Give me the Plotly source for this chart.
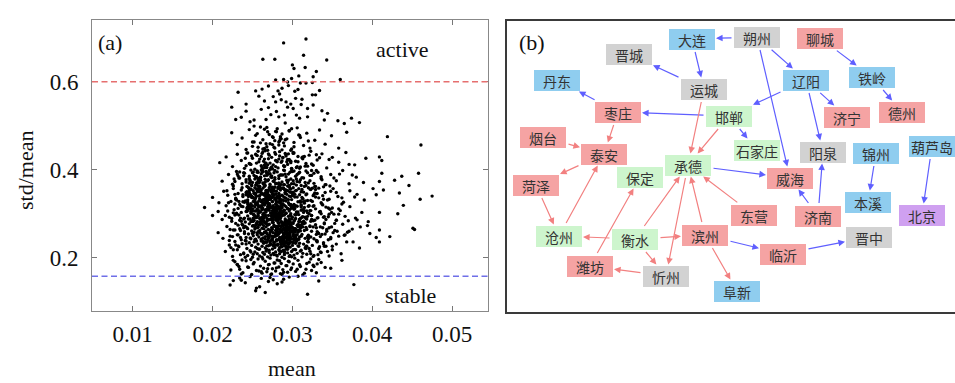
import plotly.graph_objects as go

W, H = 955, 383

# ---------------- panel (a): scatter of std/mean vs mean ----------------
# values, grouped by std/mean band
mean_a = [0.0222, 0.0226, 0.0234, 0.0236, 0.0241, 0.0247, 0.0254, 0.0255, 0.0259, 0.0261,
          0.0266, 0.0270, 0.0272, 0.0276, 0.0281, 0.0287, 0.0289, 0.0296, 0.0307, 0.0319,
          0.0333, 0.0377]
cv_a = [0.138, 0.148, 0.154, 0.149, 0.143, 0.157, 0.125, 0.131, 0.134, 0.153,
        0.121, 0.146, 0.155, 0.150, 0.141, 0.145, 0.151, 0.156, 0.158, 0.117,
        0.147, 0.139]

mean_b = [0.0223, 0.0231, 0.0238, 0.0242, 0.0245, 0.0249, 0.0252, 0.0255, 0.0257, 0.0260,
          0.0262, 0.0264, 0.0266, 0.0268, 0.0270, 0.0272, 0.0274, 0.0275, 0.0277, 0.0279,
          0.0281, 0.0283, 0.0285, 0.0286, 0.0288, 0.0290, 0.0292, 0.0294, 0.0296, 0.0299,
          0.0301, 0.0304, 0.0307, 0.0310, 0.0313, 0.0317, 0.0321, 0.0326, 0.0333, 0.0341,
          0.0228, 0.0236, 0.0244, 0.0251, 0.0258, 0.0263, 0.0269, 0.0273, 0.0278, 0.0284,
          0.0289, 0.0293, 0.0298, 0.0303, 0.0309, 0.0315, 0.0324, 0.0336, 0.0348, 0.0362,
          0.0233, 0.0248, 0.0261, 0.0271, 0.0280, 0.0287, 0.0295, 0.0306, 0.0318, 0.0330]
cv_b = [0.172, 0.185, 0.166, 0.193, 0.178, 0.162, 0.189, 0.171, 0.197, 0.181,
        0.165, 0.176, 0.192, 0.168, 0.184, 0.199, 0.163, 0.175, 0.188, 0.170,
        0.195, 0.179, 0.164, 0.187, 0.173, 0.198, 0.182, 0.167, 0.191, 0.177,
        0.186, 0.169, 0.194, 0.180, 0.161, 0.174, 0.190, 0.183, 0.196, 0.178,
        0.191, 0.163, 0.179, 0.186, 0.170, 0.197, 0.175, 0.162, 0.188, 0.193,
        0.167, 0.182, 0.173, 0.199, 0.184, 0.165, 0.171, 0.189, 0.176, 0.194,
        0.180, 0.196, 0.168, 0.185, 0.177, 0.162, 0.192, 0.174, 0.187, 0.166]

mean_c = [0.0216, 0.0221, 0.0225, 0.0228, 0.0231, 0.0233, 0.0235, 0.0237, 0.0239, 0.0241,
          0.0243, 0.0244, 0.0246, 0.0247, 0.0249, 0.0250, 0.0252, 0.0253, 0.0254, 0.0256,
          0.0257, 0.0258, 0.0259, 0.0261, 0.0262, 0.0263, 0.0264, 0.0265, 0.0266, 0.0267,
          0.0268, 0.0269, 0.0270, 0.0271, 0.0272, 0.0273, 0.0274, 0.0275, 0.0276, 0.0277,
          0.0278, 0.0279, 0.0280, 0.0281, 0.0282, 0.0283, 0.0284, 0.0285, 0.0286, 0.0287,
          0.0288, 0.0289, 0.0290, 0.0291, 0.0292, 0.0293, 0.0294, 0.0295, 0.0296, 0.0297,
          0.0298, 0.0299, 0.0300, 0.0302, 0.0303, 0.0305, 0.0306, 0.0308, 0.0309, 0.0311,
          0.0312, 0.0314, 0.0316, 0.0318, 0.0320, 0.0322, 0.0325, 0.0327, 0.0330, 0.0333,
          0.0336, 0.0339, 0.0342, 0.0346, 0.0350, 0.0355, 0.0361, 0.0368, 0.0376, 0.0384,
          0.0405, 0.0409, 0.0422, 0.0232, 0.0248, 0.0255, 0.0262, 0.0268, 0.0273, 0.0277,
          0.0281, 0.0284, 0.0287, 0.0290, 0.0293, 0.0297, 0.0301, 0.0304, 0.0307, 0.0313,
          0.0319, 0.0326, 0.0334, 0.0344, 0.0242, 0.0251, 0.0259, 0.0266, 0.0271, 0.0276,
          0.0280, 0.0285, 0.0289, 0.0294, 0.0299, 0.0304, 0.0310, 0.0317, 0.0323, 0.0331]
cv_c = [0.214, 0.229, 0.203, 0.237, 0.218, 0.225, 0.207, 0.232, 0.211, 0.239,
        0.221, 0.205, 0.234, 0.216, 0.228, 0.201, 0.236, 0.213, 0.224, 0.209,
        0.231, 0.219, 0.204, 0.238, 0.226, 0.212, 0.233, 0.208, 0.222, 0.215,
        0.235, 0.202, 0.227, 0.217, 0.230, 0.206, 0.240, 0.220, 0.210, 0.234,
        0.223, 0.213, 0.238, 0.204, 0.229, 0.218, 0.209, 0.236, 0.225, 0.201,
        0.216, 0.232, 0.207, 0.227, 0.220, 0.239, 0.211, 0.230, 0.203, 0.224,
        0.235, 0.214, 0.228, 0.206, 0.219, 0.237, 0.210, 0.226, 0.233, 0.217,
        0.202, 0.231, 0.222, 0.208, 0.236, 0.215, 0.228, 0.205, 0.239, 0.221,
        0.212, 0.234, 0.226, 0.204, 0.218, 0.231, 0.209, 0.236, 0.236, 0.222,
        0.246, 0.236, 0.248, 0.227, 0.213, 0.238, 0.201, 0.219, 0.232, 0.207,
        0.229, 0.216, 0.240, 0.211, 0.223, 0.205, 0.234, 0.218, 0.227, 0.210,
        0.237, 0.203, 0.225, 0.214, 0.231, 0.208, 0.220, 0.235, 0.212, 0.228,
        0.206, 0.239, 0.217, 0.224, 0.202, 0.233, 0.215, 0.226, 0.209, 0.238]

mean_d = [0.0207, 0.0213, 0.0218, 0.0222, 0.0226, 0.0229, 0.0232, 0.0234, 0.0236, 0.0238,
          0.0240, 0.0242, 0.0243, 0.0245, 0.0246, 0.0248, 0.0249, 0.0250, 0.0251, 0.0253,
          0.0254, 0.0255, 0.0256, 0.0257, 0.0258, 0.0259, 0.0260, 0.0261, 0.0262, 0.0263,
          0.0264, 0.0265, 0.0266, 0.0267, 0.0268, 0.0269, 0.0270, 0.0271, 0.0272, 0.0273,
          0.0274, 0.0275, 0.0276, 0.0277, 0.0278, 0.0279, 0.0280, 0.0281, 0.0282, 0.0283,
          0.0284, 0.0285, 0.0286, 0.0287, 0.0288, 0.0289, 0.0290, 0.0291, 0.0292, 0.0293,
          0.0294, 0.0295, 0.0296, 0.0297, 0.0298, 0.0299, 0.0300, 0.0301, 0.0303, 0.0304,
          0.0306, 0.0307, 0.0309, 0.0310, 0.0312, 0.0314, 0.0316, 0.0318, 0.0320, 0.0322,
          0.0324, 0.0327, 0.0329, 0.0332, 0.0335, 0.0338, 0.0341, 0.0345, 0.0349, 0.0353,
          0.0358, 0.0363, 0.0369, 0.0375, 0.0385, 0.0394, 0.0397, 0.0409, 0.0451, 0.0453,
          0.0231, 0.0239, 0.0247, 0.0252, 0.0257, 0.0261, 0.0264, 0.0267, 0.0270, 0.0273,
          0.0276, 0.0279, 0.0282, 0.0285, 0.0288, 0.0291, 0.0294, 0.0297, 0.0300, 0.0303,
          0.0307, 0.0311, 0.0315, 0.0320, 0.0326, 0.0333, 0.0340, 0.0348, 0.0356, 0.0366,
          0.0244, 0.0253, 0.0259, 0.0265, 0.0269, 0.0274, 0.0278, 0.0283, 0.0287, 0.0292,
          0.0296, 0.0301, 0.0305, 0.0310, 0.0317, 0.0323, 0.0331, 0.0343, 0.0237, 0.0256,
          0.0266, 0.0275, 0.0281, 0.0286, 0.0290, 0.0295, 0.0302, 0.0308, 0.0313, 0.0319,
          0.0228, 0.0250, 0.0262, 0.0271, 0.0277, 0.0284, 0.0289, 0.0298, 0.0330, 0.0371]
cv_d = [0.257, 0.244, 0.271, 0.249, 0.263, 0.278, 0.252, 0.266, 0.241, 0.274,
        0.259, 0.246, 0.268, 0.254, 0.277, 0.243, 0.261, 0.272, 0.250, 0.265,
        0.242, 0.275, 0.256, 0.269, 0.247, 0.262, 0.279, 0.253, 0.267, 0.245,
        0.273, 0.258, 0.248, 0.270, 0.255, 0.240, 0.264, 0.276, 0.251, 0.260,
        0.268, 0.244, 0.257, 0.274, 0.249, 0.262, 0.241, 0.271, 0.254, 0.278,
        0.246, 0.265, 0.259, 0.243, 0.273, 0.252, 0.267, 0.248, 0.276, 0.256,
        0.263, 0.240, 0.270, 0.255, 0.245, 0.279, 0.261, 0.250, 0.266, 0.242,
        0.274, 0.258, 0.247, 0.269, 0.253, 0.277, 0.244, 0.264, 0.251, 0.272,
        0.260, 0.243, 0.275, 0.257, 0.248, 0.268, 0.254, 0.241, 0.270, 0.262,
        0.249, 0.276, 0.258, 0.265, 0.270, 0.273, 0.255, 0.263, 0.267, 0.264,
        0.252, 0.268, 0.245, 0.273, 0.259, 0.242, 0.266, 0.278, 0.250, 0.261,
        0.247, 0.271, 0.256, 0.244, 0.264, 0.279, 0.253, 0.240, 0.269, 0.258,
        0.275, 0.249, 0.262, 0.243, 0.270, 0.255, 0.277, 0.246, 0.260, 0.252,
        0.266, 0.241, 0.274, 0.257, 0.248, 0.263, 0.250, 0.272, 0.245, 0.267,
        0.254, 0.278, 0.243, 0.261, 0.269, 0.247, 0.259, 0.264, 0.276, 0.252,
        0.242, 0.265, 0.251, 0.273, 0.256, 0.268, 0.244, 0.262, 0.270, 0.248,
        0.263, 0.255, 0.277, 0.246, 0.271, 0.258, 0.241, 0.267, 0.253, 0.260]

mean_e = [0.0190, 0.0200, 0.0207, 0.0212, 0.0217, 0.0221, 0.0224, 0.0227, 0.0230, 0.0232,
          0.0234, 0.0236, 0.0238, 0.0240, 0.0241, 0.0243, 0.0244, 0.0246, 0.0247, 0.0248,
          0.0250, 0.0251, 0.0252, 0.0253, 0.0254, 0.0255, 0.0256, 0.0257, 0.0258, 0.0259,
          0.0260, 0.0261, 0.0262, 0.0263, 0.0264, 0.0265, 0.0266, 0.0267, 0.0268, 0.0269,
          0.0270, 0.0271, 0.0272, 0.0273, 0.0274, 0.0275, 0.0276, 0.0277, 0.0278, 0.0279,
          0.0280, 0.0281, 0.0282, 0.0283, 0.0284, 0.0285, 0.0286, 0.0287, 0.0288, 0.0289,
          0.0290, 0.0291, 0.0292, 0.0293, 0.0294, 0.0295, 0.0296, 0.0297, 0.0298, 0.0299,
          0.0300, 0.0302, 0.0303, 0.0305, 0.0306, 0.0308, 0.0309, 0.0311, 0.0313, 0.0315,
          0.0317, 0.0319, 0.0321, 0.0324, 0.0326, 0.0329, 0.0332, 0.0335, 0.0338, 0.0342,
          0.0346, 0.0350, 0.0355, 0.0360, 0.0366, 0.0372, 0.0379, 0.0387, 0.0395, 0.0409,
          0.0432, 0.0439, 0.0228, 0.0239, 0.0245, 0.0249, 0.0253, 0.0257, 0.0261, 0.0264,
          0.0267, 0.0270, 0.0273, 0.0276, 0.0279, 0.0282, 0.0285, 0.0288, 0.0291, 0.0294,
          0.0297, 0.0301, 0.0304, 0.0307, 0.0311, 0.0316, 0.0322, 0.0328, 0.0336, 0.0345,
          0.0235, 0.0242, 0.0251, 0.0258, 0.0263, 0.0268, 0.0272, 0.0277, 0.0281, 0.0286,
          0.0290, 0.0295, 0.0299, 0.0304, 0.0310, 0.0318, 0.0327, 0.0340, 0.0358, 0.0381,
          0.0226, 0.0248, 0.0255, 0.0262, 0.0269, 0.0274, 0.0279, 0.0284, 0.0289, 0.0293,
          0.0298, 0.0303, 0.0309, 0.0314, 0.0320, 0.0331, 0.0352, 0.0370, 0.0256, 0.0266,
          0.0271, 0.0275, 0.0280, 0.0283, 0.0287, 0.0292, 0.0296, 0.0301, 0.0312, 0.0323]
cv_e = [0.314, 0.296, 0.305, 0.287, 0.318, 0.292, 0.283, 0.309, 0.299, 0.312,
        0.285, 0.303, 0.316, 0.290, 0.281, 0.307, 0.295, 0.319, 0.288, 0.301,
        0.311, 0.284, 0.297, 0.315, 0.293, 0.306, 0.282, 0.300, 0.317, 0.289,
        0.304, 0.291, 0.313, 0.286, 0.298, 0.320, 0.294, 0.308, 0.283, 0.310,
        0.296, 0.318, 0.287, 0.302, 0.314, 0.280, 0.305, 0.292, 0.311, 0.299,
        0.285, 0.309, 0.295, 0.316, 0.290, 0.303, 0.282, 0.313, 0.297, 0.307,
        0.319, 0.288, 0.301, 0.284, 0.312, 0.294, 0.306, 0.281, 0.300, 0.315,
        0.292, 0.310, 0.286, 0.304, 0.317, 0.298, 0.283, 0.308, 0.293, 0.314,
        0.289, 0.302, 0.318, 0.296, 0.284, 0.311, 0.291, 0.305, 0.320, 0.287,
        0.299, 0.313, 0.285, 0.307, 0.294, 0.316, 0.290, 0.303, 0.282, 0.303,
        0.300, 0.319, 0.297, 0.288, 0.312, 0.283, 0.306, 0.295, 0.317, 0.291,
        0.309, 0.286, 0.301, 0.314, 0.293, 0.280, 0.308, 0.297, 0.284, 0.311,
        0.296, 0.318, 0.289, 0.304, 0.315, 0.292, 0.307, 0.285, 0.300, 0.313,
        0.290, 0.305, 0.283, 0.316, 0.298, 0.310, 0.287, 0.302, 0.319, 0.294,
        0.308, 0.281, 0.313, 0.297, 0.289, 0.306, 0.318, 0.293, 0.311, 0.286,
        0.302, 0.316, 0.291, 0.284, 0.309, 0.296, 0.314, 0.288, 0.305, 0.281,
        0.295, 0.312, 0.287, 0.303, 0.317, 0.290, 0.299, 0.284, 0.310, 0.297,
        0.313, 0.285, 0.306, 0.294, 0.319, 0.301, 0.288, 0.315, 0.292, 0.307]

mean_f = [0.0200, 0.0208, 0.0214, 0.0219, 0.0223, 0.0226, 0.0229, 0.0232, 0.0234, 0.0236,
          0.0238, 0.0240, 0.0242, 0.0244, 0.0245, 0.0247, 0.0248, 0.0250, 0.0251, 0.0253,
          0.0254, 0.0255, 0.0256, 0.0258, 0.0259, 0.0260, 0.0261, 0.0262, 0.0263, 0.0264,
          0.0265, 0.0266, 0.0267, 0.0268, 0.0269, 0.0270, 0.0271, 0.0272, 0.0273, 0.0274,
          0.0275, 0.0276, 0.0277, 0.0278, 0.0279, 0.0280, 0.0281, 0.0282, 0.0283, 0.0284,
          0.0285, 0.0286, 0.0287, 0.0288, 0.0289, 0.0290, 0.0291, 0.0292, 0.0293, 0.0294,
          0.0295, 0.0296, 0.0297, 0.0299, 0.0300, 0.0302, 0.0303, 0.0305, 0.0307, 0.0309,
          0.0311, 0.0313, 0.0315, 0.0318, 0.0320, 0.0323, 0.0326, 0.0329, 0.0333, 0.0337,
          0.0341, 0.0346, 0.0351, 0.0357, 0.0364, 0.0372, 0.0381, 0.0390, 0.0405, 0.0414,
          0.0434, 0.0460, 0.0475, 0.0233, 0.0243, 0.0249, 0.0257, 0.0263, 0.0268, 0.0272,
          0.0276, 0.0280, 0.0284, 0.0288, 0.0292, 0.0296, 0.0301, 0.0306, 0.0312, 0.0319,
          0.0327, 0.0336, 0.0348, 0.0362, 0.0241, 0.0252, 0.0259, 0.0266, 0.0271, 0.0277,
          0.0282, 0.0287, 0.0291, 0.0298, 0.0304, 0.0310, 0.0317, 0.0325, 0.0339, 0.0355,
          0.0228, 0.0246, 0.0255, 0.0262, 0.0269, 0.0274, 0.0279, 0.0285, 0.0290, 0.0295,
          0.0300, 0.0308, 0.0316, 0.0331, 0.0378, 0.0260, 0.0273, 0.0286, 0.0297, 0.0314]
cv_f = [0.337, 0.325, 0.351, 0.342, 0.328, 0.357, 0.333, 0.346, 0.321, 0.354,
        0.339, 0.326, 0.348, 0.331, 0.359, 0.344, 0.323, 0.336, 0.352, 0.329,
        0.343, 0.356, 0.322, 0.340, 0.334, 0.350, 0.327, 0.345, 0.358, 0.332,
        0.324, 0.347, 0.338, 0.353, 0.330, 0.341, 0.355, 0.320, 0.336, 0.349,
        0.328, 0.344, 0.357, 0.333, 0.322, 0.351, 0.339, 0.326, 0.346, 0.335,
        0.354, 0.331, 0.342, 0.323, 0.358, 0.337, 0.349, 0.329, 0.344, 0.352,
        0.325, 0.340, 0.356, 0.332, 0.347, 0.321, 0.338, 0.353, 0.327, 0.343,
        0.350, 0.334, 0.324, 0.345, 0.359, 0.330, 0.341, 0.355, 0.336, 0.322,
        0.348, 0.333, 0.357, 0.339, 0.326, 0.352, 0.344, 0.331, 0.343, 0.354,
        0.347, 0.333, 0.340, 0.328, 0.350, 0.337, 0.356, 0.324, 0.345, 0.332,
        0.353, 0.327, 0.341, 0.358, 0.335, 0.321, 0.349, 0.338, 0.355, 0.330,
        0.344, 0.325, 0.351, 0.336, 0.329, 0.347, 0.356, 0.334, 0.323, 0.342,
        0.357, 0.331, 0.346, 0.339, 0.352, 0.326, 0.343, 0.358, 0.333, 0.348,
        0.322, 0.354, 0.340, 0.328, 0.350, 0.337, 0.345, 0.324, 0.355, 0.332,
        0.341, 0.357, 0.329, 0.346, 0.338, 0.352, 0.335, 0.320, 0.349, 0.327]

mean_g = [0.0212, 0.0220, 0.0226, 0.0230, 0.0234, 0.0237, 0.0240, 0.0242, 0.0244, 0.0246,
          0.0248, 0.0250, 0.0252, 0.0254, 0.0256, 0.0257, 0.0259, 0.0260, 0.0262, 0.0263,
          0.0265, 0.0266, 0.0268, 0.0269, 0.0271, 0.0272, 0.0274, 0.0275, 0.0277, 0.0278,
          0.0280, 0.0281, 0.0283, 0.0284, 0.0286, 0.0287, 0.0289, 0.0290, 0.0292, 0.0293,
          0.0295, 0.0296, 0.0298, 0.0300, 0.0302, 0.0304, 0.0306, 0.0308, 0.0311, 0.0314,
          0.0317, 0.0320, 0.0324, 0.0328, 0.0332, 0.0337, 0.0342, 0.0348, 0.0355, 0.0363,
          0.0371, 0.0380, 0.0389, 0.0401, 0.0409, 0.0412, 0.0428, 0.0437, 0.0446, 0.0458,
          0.0232, 0.0243, 0.0251, 0.0258, 0.0264, 0.0270, 0.0276, 0.0282, 0.0288, 0.0294,
          0.0299, 0.0305, 0.0312, 0.0319, 0.0327, 0.0336, 0.0347, 0.0359, 0.0247, 0.0261,
          0.0273, 0.0285, 0.0297, 0.0309, 0.0322, 0.0339, 0.0253, 0.0267, 0.0279, 0.0291,
          0.0301, 0.0315, 0.0330, 0.0352, 0.0239, 0.0255, 0.0283, 0.0296, 0.0310, 0.0375]
cv_g = [0.374, 0.389, 0.363, 0.396, 0.381, 0.368, 0.392, 0.377, 0.361, 0.385,
        0.399, 0.371, 0.387, 0.365, 0.394, 0.379, 0.362, 0.383, 0.397, 0.370,
        0.386, 0.364, 0.391, 0.375, 0.398, 0.367, 0.382, 0.360, 0.393, 0.378,
        0.369, 0.395, 0.380, 0.363, 0.388, 0.372, 0.399, 0.366, 0.384, 0.376,
        0.390, 0.361, 0.379, 0.396, 0.368, 0.385, 0.373, 0.392, 0.364, 0.381,
        0.397, 0.370, 0.387, 0.362, 0.394, 0.377, 0.366, 0.389, 0.375, 0.398,
        0.368, 0.383, 0.371, 0.357, 0.373, 0.392, 0.376, 0.385, 0.364, 0.392,
        0.386, 0.362, 0.395, 0.378, 0.367, 0.391, 0.374, 0.360, 0.388, 0.371,
        0.397, 0.365, 0.382, 0.393, 0.369, 0.380, 0.363, 0.390, 0.376, 0.399,
        0.384, 0.366, 0.394, 0.372, 0.387, 0.361, 0.379, 0.396, 0.368, 0.390,
        0.375, 0.362, 0.398, 0.381, 0.393, 0.370, 0.386, 0.364, 0.377, 0.388]

mean_h = [0.0209, 0.0217, 0.0225, 0.0231, 0.0236, 0.0240, 0.0244, 0.0247, 0.0250, 0.0253,
          0.0256, 0.0258, 0.0261, 0.0263, 0.0265, 0.0268, 0.0270, 0.0272, 0.0274, 0.0276,
          0.0278, 0.0280, 0.0282, 0.0284, 0.0286, 0.0288, 0.0290, 0.0292, 0.0294, 0.0296,
          0.0299, 0.0301, 0.0304, 0.0307, 0.0310, 0.0313, 0.0317, 0.0321, 0.0326, 0.0331,
          0.0337, 0.0343, 0.0350, 0.0358, 0.0367, 0.0378, 0.0392, 0.0409, 0.0412, 0.0242,
          0.0255, 0.0266, 0.0275, 0.0283, 0.0291, 0.0298, 0.0306, 0.0315, 0.0324, 0.0334,
          0.0262, 0.0279, 0.0293, 0.0309, 0.0346, 0.0371, 0.0249, 0.0287, 0.0302, 0.0319]
cv_h = [0.416, 0.429, 0.407, 0.435, 0.421, 0.403, 0.438, 0.413, 0.426, 0.401,
        0.432, 0.418, 0.409, 0.440, 0.424, 0.405, 0.436, 0.415, 0.428, 0.411,
        0.439, 0.420, 0.404, 0.431, 0.417, 0.427, 0.408, 0.434, 0.412, 0.423,
        0.402, 0.437, 0.419, 0.430, 0.406, 0.425, 0.414, 0.433, 0.410, 0.422,
        0.436, 0.404, 0.428, 0.417, 0.439, 0.411, 0.426, 0.429, 0.421, 0.409,
        0.433, 0.415, 0.402, 0.424, 0.437, 0.419, 0.407, 0.430, 0.413, 0.427,
        0.405, 0.435, 0.418, 0.403, 0.423, 0.412, 0.431, 0.420, 0.438, 0.408]

mean_i = [0.0224, 0.0231, 0.0237, 0.0242, 0.0246, 0.0250, 0.0254, 0.0257, 0.0260, 0.0263,
          0.0266, 0.0269, 0.0272, 0.0275, 0.0278, 0.0281, 0.0284, 0.0287, 0.0290, 0.0293,
          0.0296, 0.0299, 0.0302, 0.0306, 0.0310, 0.0314, 0.0318, 0.0323, 0.0328, 0.0334,
          0.0341, 0.0349, 0.0358, 0.0368, 0.0419, 0.0461, 0.0252, 0.0268, 0.0279, 0.0289,
          0.0298, 0.0308, 0.0320, 0.0265, 0.0285]
cv_i = [0.484, 0.457, 0.472, 0.446, 0.491, 0.463, 0.478, 0.451, 0.497, 0.468,
        0.443, 0.486, 0.459, 0.475, 0.449, 0.493, 0.466, 0.481, 0.454, 0.470,
        0.488, 0.447, 0.462, 0.495, 0.473, 0.455, 0.483, 0.442, 0.467, 0.490,
        0.458, 0.477, 0.449, 0.485, 0.475, 0.456, 0.499, 0.452, 0.487, 0.461,
        0.444, 0.479, 0.465, 0.492, 0.471]

mean_j = [0.0232, 0.0254, 0.0262, 0.0258, 0.0282, 0.0284, 0.0287, 0.0307, 0.0304, 0.0325,
          0.0329, 0.0312, 0.0224, 0.0242, 0.0242, 0.0261, 0.0270, 0.0279, 0.0280, 0.0292,
          0.0294, 0.0301, 0.0298, 0.0319, 0.0326, 0.0337, 0.0344, 0.0229, 0.0236, 0.0247,
          0.0252, 0.0267, 0.0283, 0.0290, 0.0305, 0.0309, 0.0319, 0.0340, 0.0357, 0.0374,
          0.0384, 0.0365, 0.0270, 0.0276, 0.0286, 0.0295, 0.0303, 0.0273, 0.0291, 0.0311,
          0.0265, 0.0334]
cv_j = [0.576, 0.579, 0.583, 0.567, 0.579, 0.572, 0.585, 0.582, 0.562, 0.570,
        0.570, 0.560, 0.542, 0.549, 0.533, 0.537, 0.541, 0.554, 0.532, 0.554,
        0.542, 0.539, 0.549, 0.539, 0.547, 0.534, 0.528, 0.514, 0.519, 0.509,
        0.513, 0.514, 0.520, 0.524, 0.524, 0.517, 0.520, 0.513, 0.511, 0.517,
        0.507, 0.505, 0.590, 0.566, 0.559, 0.591, 0.578, 0.525, 0.506, 0.548,
        0.556, 0.580]

mean_k = [0.0317, 0.0289, 0.0263, 0.0278, 0.0314, 0.0343, 0.0300, 0.0302, 0.0316, 0.0330,
          0.0308, 0.0326, 0.0279, 0.0289, 0.0299, 0.0360, 0.0310, 0.0317, 0.0325, 0.0294]
cv_k = [0.697, 0.688, 0.651, 0.651, 0.660, 0.649, 0.638, 0.630, 0.632, 0.623,
        0.613, 0.611, 0.604, 0.605, 0.607, 0.605, 0.597, 0.597, 0.598, 0.599]

# dense core of the cloud
mean_core = [0.0263, 0.0291, 0.0248, 0.0307, 0.0276, 0.0255, 0.0318, 0.0284, 0.0269, 0.0299,
             0.0287, 0.0252, 0.0274, 0.0311, 0.0266, 0.0295, 0.0243, 0.0281, 0.0302, 0.0259,
             0.0278, 0.0305, 0.0261, 0.0289, 0.0246, 0.0272, 0.0314, 0.0257, 0.0293, 0.0283,
             0.0250, 0.0279, 0.0297, 0.0268, 0.0322, 0.0285, 0.0258, 0.0301, 0.0275, 0.0264,
             0.0296, 0.0271, 0.0254, 0.0288, 0.0309, 0.0262, 0.0280, 0.0245, 0.0316, 0.0277,
             0.0282, 0.0260, 0.0303, 0.0273, 0.0249, 0.0292, 0.0267, 0.0325, 0.0286, 0.0256,
             0.0270, 0.0298, 0.0285, 0.0253, 0.0279, 0.0312, 0.0265, 0.0290, 0.0247, 0.0304,
             0.0259, 0.0284, 0.0276, 0.0300, 0.0268, 0.0244, 0.0294, 0.0281, 0.0319, 0.0272,
             0.0293, 0.0267, 0.0251, 0.0286, 0.0310, 0.0274, 0.0258, 0.0297, 0.0283, 0.0262,
             0.0275, 0.0302, 0.0289, 0.0264, 0.0242, 0.0280, 0.0306, 0.0270, 0.0255, 0.0291,
             0.0266, 0.0288, 0.0251, 0.0313, 0.0279, 0.0258, 0.0296, 0.0273, 0.0284, 0.0247,
             0.0301, 0.0262, 0.0278, 0.0245, 0.0290, 0.0269, 0.0321, 0.0282, 0.0256, 0.0294,
             0.0274, 0.0253, 0.0299, 0.0286, 0.0263, 0.0308, 0.0277, 0.0249, 0.0292, 0.0268,
             0.0283, 0.0305, 0.0260, 0.0271, 0.0296, 0.0254, 0.0287, 0.0317, 0.0265, 0.0280,
             0.0257, 0.0279, 0.0292, 0.0248, 0.0275, 0.0300, 0.0267, 0.0285, 0.0311, 0.0262,
             0.0289, 0.0270, 0.0246, 0.0283, 0.0306, 0.0261, 0.0294, 0.0276, 0.0252, 0.0298,
             0.0264, 0.0297, 0.0281, 0.0255, 0.0272, 0.0315, 0.0288, 0.0259, 0.0278, 0.0303,
             0.0291, 0.0250, 0.0268, 0.0302, 0.0284, 0.0263, 0.0277, 0.0324, 0.0244, 0.0286,
             0.0273, 0.0309, 0.0256, 0.0280, 0.0295, 0.0266, 0.0251, 0.0289, 0.0271, 0.0313,
             0.0285, 0.0261, 0.0293, 0.0270, 0.0248, 0.0282, 0.0304, 0.0258, 0.0276, 0.0297,
             0.0269, 0.0290, 0.0254, 0.0278, 0.0307, 0.0265, 0.0287, 0.0243, 0.0299, 0.0274,
             0.0296, 0.0257, 0.0283, 0.0263, 0.0318, 0.0272, 0.0250, 0.0291, 0.0280, 0.0267,
             0.0278, 0.0302, 0.0266, 0.0289, 0.0255, 0.0294, 0.0271, 0.0308, 0.0260, 0.0285,
             0.0252, 0.0281, 0.0298, 0.0269, 0.0286, 0.0247, 0.0275, 0.0301, 0.0264, 0.0292,
             0.0287, 0.0266, 0.0310, 0.0277, 0.0259, 0.0296, 0.0283, 0.0253, 0.0272, 0.0316,
             0.0261, 0.0293, 0.0274, 0.0250, 0.0288, 0.0268, 0.0305, 0.0279, 0.0245, 0.0290,
             0.0299, 0.0276, 0.0258, 0.0284, 0.0265, 0.0312, 0.0270, 0.0295, 0.0281, 0.0256,
             0.0272, 0.0249, 0.0291, 0.0263, 0.0300, 0.0278, 0.0257, 0.0286, 0.0320, 0.0267,
             0.0284, 0.0307, 0.0262, 0.0276, 0.0254, 0.0289, 0.0298, 0.0269, 0.0282, 0.0246,
             0.0258, 0.0280, 0.0295, 0.0271, 0.0314, 0.0264, 0.0287, 0.0252, 0.0277, 0.0303,
             0.0291, 0.0268, 0.0282, 0.0247, 0.0275, 0.0297, 0.0261, 0.0309, 0.0285, 0.0270,
             0.0265, 0.0286, 0.0253, 0.0294, 0.0279, 0.0256, 0.0302, 0.0273, 0.0289, 0.0262,
             0.0280, 0.0259, 0.0301, 0.0267, 0.0248, 0.0290, 0.0276, 0.0317, 0.0260, 0.0284,
             0.0254, 0.0297, 0.0274, 0.0288, 0.0263, 0.0281, 0.0306, 0.0251, 0.0293, 0.0272,
             0.0298, 0.0271, 0.0249, 0.0283, 0.0311, 0.0266, 0.0279, 0.0258, 0.0296, 0.0287,
             0.0277, 0.0304, 0.0262, 0.0292, 0.0255, 0.0274, 0.0289, 0.0267, 0.0300, 0.0282,
             0.0260, 0.0285, 0.0296, 0.0270, 0.0286, 0.0248, 0.0314, 0.0278, 0.0264, 0.0293,
             0.0289, 0.0257, 0.0275, 0.0308, 0.0268, 0.0281, 0.0253, 0.0299, 0.0276, 0.0261,
             0.0271, 0.0294, 0.0283, 0.0259, 0.0303, 0.0265, 0.0290, 0.0246, 0.0280, 0.0310,
             0.0282, 0.0264, 0.0251, 0.0297, 0.0273, 0.0288, 0.0269, 0.0323, 0.0257, 0.0285]
cv_core = [0.312, 0.268, 0.355, 0.241, 0.297, 0.384, 0.226, 0.331, 0.274, 0.403,
           0.259, 0.346, 0.289, 0.318, 0.372, 0.233, 0.305, 0.264, 0.397, 0.281,
           0.336, 0.252, 0.391, 0.276, 0.318, 0.229, 0.349, 0.295, 0.262, 0.367,
           0.284, 0.407, 0.245, 0.326, 0.271, 0.359, 0.302, 0.218, 0.338, 0.293,
           0.361, 0.287, 0.322, 0.248, 0.394, 0.309, 0.256, 0.343, 0.279, 0.235,
           0.299, 0.376, 0.261, 0.314, 0.340, 0.273, 0.415, 0.286, 0.230, 0.352,
           0.244, 0.321, 0.367, 0.292, 0.255, 0.337, 0.280, 0.398, 0.311, 0.266,
           0.381, 0.258, 0.303, 0.347, 0.227, 0.316, 0.363, 0.270, 0.294, 0.339,
           0.275, 0.353, 0.290, 0.214, 0.329, 0.386, 0.307, 0.250, 0.370, 0.283,
           0.327, 0.240, 0.366, 0.301, 0.343, 0.265, 0.389, 0.319, 0.278, 0.236,
           0.296, 0.358, 0.273, 0.334, 0.249, 0.315, 0.277, 0.402, 0.263, 0.344,
           0.253, 0.311, 0.382, 0.288, 0.227, 0.348, 0.300, 0.267, 0.325, 0.374,
           0.338, 0.270, 0.243, 0.317, 0.396, 0.282, 0.351, 0.306, 0.233, 0.289,
           0.302, 0.379, 0.256, 0.342, 0.285, 0.320, 0.247, 0.364, 0.410, 0.271,
           0.363, 0.229, 0.316, 0.282, 0.345, 0.261, 0.304, 0.388, 0.274, 0.330,
           0.277, 0.332, 0.369, 0.254, 0.299, 0.347, 0.219, 0.318, 0.285, 0.356,
           0.320, 0.262, 0.293, 0.383, 0.238, 0.307, 0.340, 0.276, 0.361, 0.250,
           0.245, 0.393, 0.337, 0.266, 0.312, 0.254, 0.373, 0.296, 0.322, 0.281,
           0.352, 0.287, 0.221, 0.328, 0.270, 0.405, 0.299, 0.243, 0.336, 0.309,
           0.289, 0.345, 0.263, 0.377, 0.305, 0.231, 0.318, 0.357, 0.280, 0.248,
           0.331, 0.253, 0.384, 0.296, 0.261, 0.342, 0.225, 0.313, 0.368, 0.294,
           0.269, 0.320, 0.345, 0.237, 0.288, 0.391, 0.306, 0.259, 0.334, 0.278,
           0.398, 0.283, 0.308, 0.255, 0.366, 0.276, 0.323, 0.242, 0.350, 0.301,
           0.258, 0.337, 0.272, 0.411, 0.295, 0.319, 0.249, 0.359, 0.284, 0.226,
           0.315, 0.378, 0.267, 0.302, 0.341, 0.234, 0.290, 0.326, 0.257, 0.371,
           0.284, 0.244, 0.355, 0.318, 0.279, 0.387, 0.263, 0.306, 0.339, 0.297,
           0.348, 0.297, 0.329, 0.223, 0.362, 0.280, 0.251, 0.376, 0.311, 0.268,
           0.237, 0.364, 0.281, 0.345, 0.259, 0.309, 0.394, 0.270, 0.247, 0.324,
           0.303, 0.271, 0.401, 0.288, 0.336, 0.256, 0.318, 0.343, 0.293, 0.380,
           0.370, 0.316, 0.246, 0.359, 0.283, 0.332, 0.272, 0.297, 0.228, 0.344,
           0.262, 0.338, 0.297, 0.373, 0.240, 0.310, 0.354, 0.284, 0.327, 0.390,
           0.325, 0.281, 0.359, 0.250, 0.304, 0.397, 0.266, 0.335, 0.275, 0.313,
           0.289, 0.372, 0.236, 0.330, 0.356, 0.275, 0.308, 0.221, 0.381, 0.300,
           0.346, 0.259, 0.315, 0.279, 0.395, 0.290, 0.252, 0.337, 0.266, 0.363,
           0.274, 0.308, 0.365, 0.241, 0.320, 0.347, 0.286, 0.377, 0.232, 0.302,
           0.313, 0.247, 0.292, 0.354, 0.277, 0.406, 0.330, 0.261, 0.342, 0.285,
           0.383, 0.296, 0.257, 0.321, 0.232, 0.340, 0.279, 0.311, 0.369, 0.246,
           0.266, 0.350, 0.307, 0.275, 0.393, 0.258, 0.332, 0.288, 0.229, 0.318,
           0.335, 0.278, 0.242, 0.362, 0.298, 0.324, 0.214, 0.349, 0.305, 0.271,
           0.291, 0.404, 0.328, 0.265, 0.352, 0.237, 0.316, 0.283, 0.374, 0.307]

# halo above the core
mean_halo_top = [0.0248, 0.0263, 0.0279, 0.0291, 0.0305, 0.0271, 0.0256, 0.0284, 0.0298, 0.0267,
                 0.0312, 0.0243, 0.0276, 0.0289, 0.0259, 0.0302, 0.0268, 0.0281, 0.0295, 0.0252,
                 0.0274, 0.0287, 0.0261, 0.0309, 0.0246, 0.0283, 0.0270, 0.0296, 0.0257, 0.0316,
                 0.0278, 0.0264, 0.0292, 0.0250, 0.0285, 0.0273, 0.0301, 0.0260, 0.0288, 0.0322,
                 0.0266, 0.0280, 0.0294, 0.0254, 0.0275, 0.0307, 0.0269, 0.0286, 0.0241, 0.0299,
                 0.0262, 0.0290, 0.0277, 0.0313, 0.0255, 0.0283, 0.0271, 0.0297, 0.0265, 0.0330]
cv_halo_top = [0.412, 0.447, 0.421, 0.468, 0.405, 0.433, 0.482, 0.441, 0.416, 0.459,
               0.427, 0.438, 0.473, 0.409, 0.424, 0.452, 0.496, 0.418, 0.436, 0.463,
               0.402, 0.445, 0.430, 0.478, 0.414, 0.456, 0.425, 0.489, 0.442, 0.408,
               0.466, 0.419, 0.431, 0.453, 0.475, 0.404, 0.439, 0.461, 0.428, 0.449,
               0.411, 0.486, 0.423, 0.435, 0.457, 0.418, 0.444, 0.470, 0.426, 0.493,
               0.437, 0.407, 0.451, 0.429, 0.415, 0.463, 0.480, 0.420, 0.448, 0.434]

# halo at the left and right flanks of the core
mean_halo_side = [0.0218, 0.0226, 0.0233, 0.0239, 0.0222, 0.0230, 0.0237, 0.0244, 0.0228, 0.0235,
                  0.0324, 0.0331, 0.0338, 0.0346, 0.0327, 0.0335, 0.0342, 0.0351, 0.0329, 0.0358,
                  0.0220, 0.0232, 0.0241, 0.0225, 0.0236, 0.0229, 0.0243, 0.0219, 0.0234, 0.0240,
                  0.0321, 0.0333, 0.0340, 0.0326, 0.0348, 0.0336, 0.0323, 0.0344, 0.0330, 0.0362,
                  0.0224, 0.0238, 0.0231, 0.0245, 0.0227, 0.0242, 0.0216, 0.0235, 0.0229, 0.0239,
                  0.0328, 0.0339, 0.0322, 0.0350, 0.0334, 0.0343, 0.0325, 0.0355, 0.0332, 0.0341,
                  0.0221, 0.0233, 0.0244, 0.0226, 0.0237, 0.0230, 0.0241, 0.0223, 0.0236, 0.0228,
                  0.0337, 0.0324, 0.0347, 0.0331, 0.0353, 0.0329, 0.0340, 0.0322, 0.0345, 0.0365,
                  0.0234, 0.0242, 0.0225, 0.0238, 0.0231, 0.0327, 0.0335, 0.0349, 0.0323, 0.0339]
cv_halo_side = [0.352, 0.218, 0.297, 0.386, 0.264, 0.331, 0.195, 0.308, 0.373, 0.246,
                0.287, 0.236, 0.341, 0.268, 0.392, 0.213, 0.315, 0.257, 0.362, 0.299,
                0.325, 0.274, 0.201, 0.367, 0.283, 0.229, 0.348, 0.306, 0.395, 0.255,
                0.221, 0.358, 0.279, 0.317, 0.243, 0.384, 0.197, 0.331, 0.268, 0.322,
                0.289, 0.343, 0.184, 0.312, 0.379, 0.238, 0.296, 0.262, 0.335, 0.209,
                0.347, 0.292, 0.375, 0.226, 0.304, 0.260, 0.328, 0.285, 0.207, 0.366,
                0.239, 0.381, 0.326, 0.194, 0.359, 0.301, 0.271, 0.223, 0.317, 0.344,
                0.253, 0.398, 0.310, 0.186, 0.278, 0.338, 0.226, 0.356, 0.293, 0.251,
                0.174, 0.372, 0.248, 0.327, 0.390, 0.180, 0.270, 0.303, 0.355, 0.231]

active_level = 0.6
stable_level = 0.158

x_tick_vals = [0.01, 0.02, 0.03, 0.04, 0.05]
x_tick_text = ["0.01", "0.02", "0.03", "0.04", "0.05"]
y_tick_vals = [0.2, 0.4, 0.6]
y_tick_text = ["0.2", "0.4", "0.6"]

# ---------------- panel (b): city network ----------------
node_names = ["大连", "朔州", "聊城", "晋城", "丹东", "运城", "辽阳", "铁岭", "枣庄", "邯郸",
              "济宁", "德州", "烟台", "泰安", "石家庄", "阳泉", "锦州", "葫芦岛", "承德", "保定",
              "菏泽", "威海", "本溪", "北京", "东营", "济南", "沧州", "衡水", "滨州", "晋中",
              "临沂", "潍坊", "忻州", "阜新"]
node_group = ["blue", "gray", "red", "gray", "blue", "gray", "blue", "blue", "red", "green",
              "red", "red", "red", "red", "green", "gray", "blue", "blue", "green", "green",
              "red", "red", "blue", "purple", "red", "red", "green", "green", "red", "gray",
              "red", "red", "gray", "blue"]
node_x = [692, 757, 820, 629, 557, 704, 806, 872, 618, 729,
          847, 902, 543, 604, 757, 823, 876, 932, 688, 640,
          536, 790, 868, 922, 754, 818, 559, 635, 705, 869,
          783, 590, 666, 737]
node_y = [39, 37, 38, 54, 80, 89, 80, 77, 112, 116,
          117, 112, 137, 154, 150, 152, 153, 146, 165, 177,
          185, 178, 202, 215, 215, 216, 236, 239, 235, 237,
          254, 266, 276, 291]

edge_src = ["朔州", "大连", "运城", "朔州", "朔州", "聊城", "铁岭", "辽阳", "辽阳", "辽阳",
            "邯郸", "邯郸", "枣庄", "承德", "济南", "济南", "锦州", "葫芦岛", "滨州", "临沂",
            "运城", "邯郸", "枣庄", "烟台", "泰安", "泰安", "承德", "菏泽", "沧州", "潍坊",
            "衡水", "衡水", "衡水", "衡水", "忻州", "承德", "滨州", "东营", "滨州"]
edge_dst = ["大连", "运城", "晋城", "辽阳", "威海", "铁岭", "德州", "济宁", "邯郸", "阳泉",
            "枣庄", "石家庄", "丹东", "威海", "威海", "阳泉", "本溪", "北京", "临沂", "晋中",
            "承德", "承德", "泰安", "泰安", "菏泽", "保定", "保定", "沧州", "泰安", "保定",
            "沧州", "滨州", "承德", "忻州", "潍坊", "忻州", "承德", "承德", "阜新"]
edge_kind = ["blue"] * 20 + ["red"] * 19

box_fill = {"red": "#f5a3a3", "blue": "#8fcdef", "gray": "#d2d2d2",
            "green": "#cdf5cd", "purple": "#cfa0f0"}
edge_color = {"blue": "#5f5fff", "red": "#f28080"}

fig = go.Figure()

all_mean = (mean_a + mean_b + mean_c + mean_d + mean_e + mean_f + mean_g + mean_h
            + mean_i + mean_j + mean_k + mean_core + mean_halo_top + mean_halo_side)
all_cv = (cv_a + cv_b + cv_c + cv_d + cv_e + cv_f + cv_g + cv_h
          + cv_i + cv_j + cv_k + cv_core + cv_halo_top + cv_halo_side)
n = min(len(all_mean), len(all_cv))

fig.add_trace(go.Scatter(x=all_mean[:n], y=all_cv[:n], mode="markers",
                         marker=dict(size=3.4, color="black", line=dict(width=0)),
                         xaxis="x", yaxis="y", hoverinfo="skip"))


def px_x(p):
    return p / W


def px_y(p):
    return 1 - p / H


serif = "Liberation Serif"
tick_font = dict(family=serif, size=23, color="#111")

fig.update_layout(
    width=W, height=H,
    margin=dict(l=0, r=0, t=0, b=0),
    paper_bgcolor="white", plot_bgcolor="white",
    showlegend=False,
    xaxis=dict(domain=[px_x(92), px_x(488)], range=[0.0049, 0.0545],
               tickvals=x_tick_vals, ticktext=x_tick_text, tickfont=tick_font,
               ticks="inside", ticklen=5, tickcolor="#777", showline=True, linecolor="#888",
               linewidth=1, mirror="ticks", showgrid=False, zeroline=False,
               ticklabelstandoff=2, anchor="y"),
    yaxis=dict(domain=[px_y(311), px_y(20)], range=[0.079, 0.740],
               tickvals=y_tick_vals, ticktext=y_tick_text, tickfont=tick_font,
               ticks="inside", ticklen=5, tickcolor="#777", showline=True, linecolor="#888",
               linewidth=1, mirror="ticks", showgrid=False, zeroline=False,
               ticklabelstandoff=8, anchor="x"),
    xaxis2=dict(domain=[px_x(506), 1.0], range=[506, 955], visible=False, anchor="y2"),
    yaxis2=dict(domain=[px_y(313), px_y(20)], range=[313, 20], visible=False, anchor="x2"),
)

# threshold lines
fig.add_shape(type="line", xref="x domain", yref="y", x0=0, x1=1, y0=active_level, y1=active_level,
              line=dict(color="#e66f6f", width=1.5, dash="6px,3.5px"))
fig.add_shape(type="line", xref="x domain", yref="y", x0=0, x1=1, y0=stable_level, y1=stable_level,
              line=dict(color="#6f6fe8", width=1.5, dash="6px,3.5px"))

# panel (b) frame (right side runs off the picture)
frame = dict(color="#3a3a3a", width=2)
fig.add_shape(type="line", xref="paper", yref="paper", x0=px_x(506), x1=px_x(506),
              y0=px_y(313), y1=px_y(20), line=frame)
fig.add_shape(type="line", xref="paper", yref="paper", x0=px_x(505), x1=1.0,
              y0=px_y(20), y1=px_y(20), line=frame)
fig.add_shape(type="line", xref="paper", yref="paper", x0=px_x(505), x1=1.0,
              y0=px_y(313), y1=px_y(313), line=frame)

# text annotations
txt_font = dict(family=serif, size=22, color="#111")


def label(text, x, y, angle=0):
    return dict(text=text, x=px_x(x), y=px_y(y), xref="paper", yref="paper",
                xanchor="center", yanchor="middle", showarrow=False,
                textangle=angle, font=txt_font)


ann = [label("(a)", 110, 42), label("active", 402, 50), label("stable", 410, 295),
       label("std/mean", 25, 171, -90), label("mean", 292, 368), label("(b)", 532, 42)]

# network edges
pos = {nm: (node_x[i], node_y[i]) for i, nm in enumerate(node_names)}
HW, HH = 24.0, 11.5


def clip(c, d):
    cx, cy = c
    dx, dy = d
    t = min(HW / abs(dx) if dx else 1e9, HH / abs(dy) if dy else 1e9)
    return cx + dx * t, cy + dy * t


for s, d, k in zip(edge_src, edge_dst, edge_kind):
    sx, sy = pos[s]
    dx, dy = pos[d]
    tx, ty = clip((sx, sy), (dx - sx, dy - sy))
    hx, hy = clip((dx, dy), (sx - dx, sy - dy))
    ann.append(dict(x=hx, y=hy, ax=tx, ay=ty, xref="x2", yref="y2", axref="x2", ayref="y2",
                    text="", showarrow=True, arrowhead=2, arrowsize=1.1, arrowwidth=1.2,
                    arrowcolor=edge_color[k]))

for i, nm in enumerate(node_names):
    ann.append(dict(x=node_x[i], y=node_y[i], xref="x2", yref="y2", text=nm, showarrow=False,
                    xanchor="center", yanchor="middle",
                    bgcolor=box_fill[node_group[i]], width=42, height=17, borderpad=2,
                    borderwidth=0, font=dict(family="Noto Sans CJK SC", size=14, color="#333")))

fig.update_layout(annotations=ann)

fig.write_html("out.html", config={"displayModeBar": False},
               post_script="document.body.style.margin='0px';")
